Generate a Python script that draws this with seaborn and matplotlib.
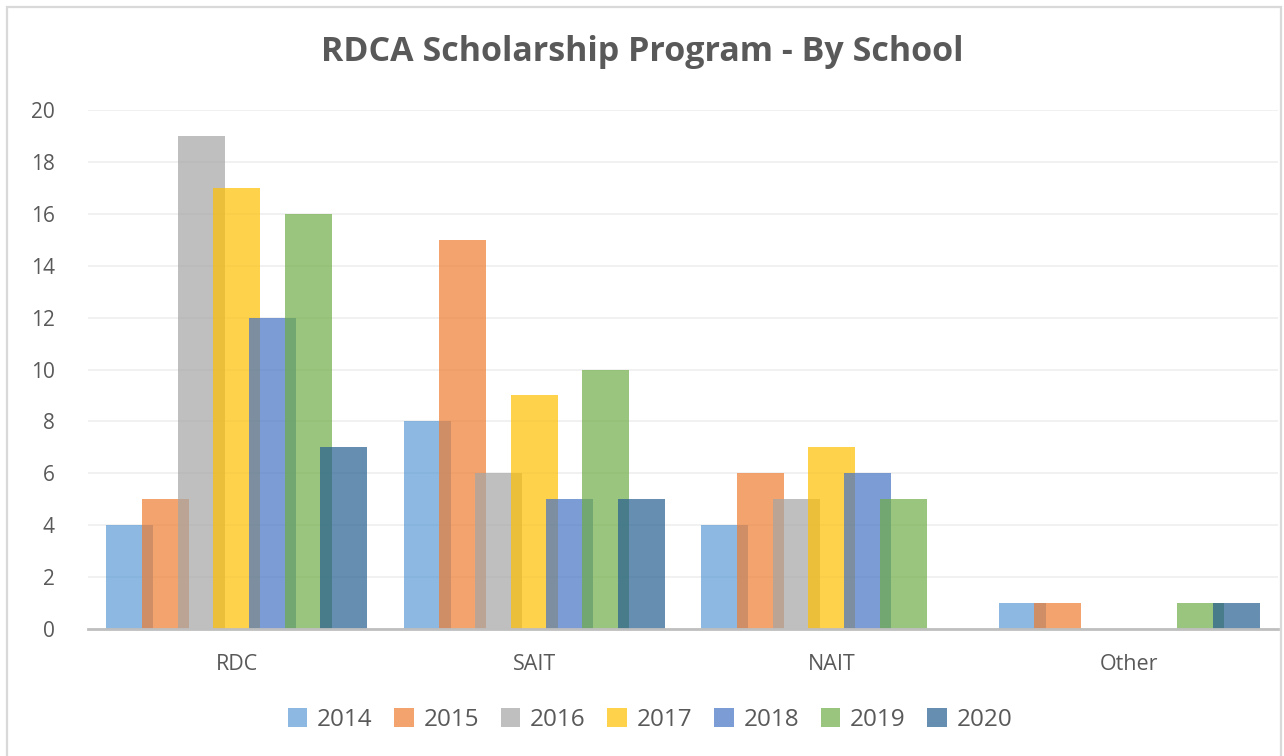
import numpy as np
import pandas as pd
import seaborn as sns
import matplotlib.pyplot as plt
from matplotlib.patches import Rectangle

# Data
schools = ['RDC', 'SAIT', 'NAIT', 'Other']
years = ['2014', '2015', '2016', '2017', '2018', '2019', '2020']
y2014 = [4, 8, 4, 1]
y2015 = [5, 15, 6, 1]
y2016 = [19, 6, 5, 0]
y2017 = [17, 9, 7, 0]
y2018 = [12, 5, 6, 0]
y2019 = [16, 10, 5, 1]
y2020 = [7, 5, 0, 1]
colors = ['#5B9BD5', '#ED7D31', '#A5A5A5', '#FFC000', '#4472C4', '#70AD47', '#255E91']

series = [y2014, y2015, y2016, y2017, y2018, y2019, y2020]
df = pd.DataFrame({
    'School': schools * len(years),
    'Year': np.repeat(years, len(schools)),
    'Count': np.concatenate(series),
})

sns.set_theme(style='white')
plt.rcParams['font.family'] = ['Open Sans', 'DejaVu Sans']

W, H = 1284, 756
fig = plt.figure(figsize=(W / 100, H / 100), dpi=100)
ax = fig.add_axes([88 / W, 127 / H, 1190 / W, 519 / H])

sns.barplot(data=df, x='School', y='Count', hue='Year', order=schools,
            hue_order=years, palette=colors, width=0.84, alpha=0.7,
            saturation=1, errorbar=None, ax=ax, legend=True, linewidth=0)

# Widen bars so neighbours overlap like the Excel original
bar_w = 0.158
for p in ax.patches:
    if p.get_height() == 0 and p.get_width() == 0:
        continue
    c = p.get_x() + p.get_width() / 2
    p.set_x(c - bar_w / 2)
    p.set_width(bar_w)

ax.set_xlim(-0.5, 3.5)
ax.set_ylim(0, 20)
ax.set_yticks(range(0, 21, 2))
ax.yaxis.grid(True, color='#EFEFEF', linewidth=1.2)
ax.set_axisbelow(True)
for s in ['top', 'right', 'left']:
    ax.spines[s].set_visible(False)
ax.spines['bottom'].set_color('#BFBFBF')
ax.spines['bottom'].set_linewidth(2)
ax.tick_params(axis='x', length=0, labelsize=15.5, labelcolor='#595959', pad=18)
ax.tick_params(axis='y', length=0, labelsize=15, labelcolor='#595959', pad=24)
ax.set_xlabel('')
ax.set_ylabel('')

fig.text(0.5, 1 - 52 / H, 'RDCA Scholarship Program - By School', ha='center',
         va='center', fontsize=24.5, fontweight='bold', color='#595959')

handles, labels = ax.get_legend_handles_labels()
fig.legend(handles, labels, loc='center', bbox_to_anchor=(650 / W, 1 - 720 / H),
           ncol=7, frameon=False, fontsize=17.5, labelcolor='#595959',
           handlelength=0.8, handleheight=0.8, handletextpad=0.4, columnspacing=0.9)
ax.get_legend().remove()

fig.patches.append(Rectangle((6.5 / W, -0.01), (1281 - 6.5) / W, (H - 7.5) / H + 0.01,
                             transform=fig.transFigure, fill=False,
                             edgecolor='#D9D9D9', linewidth=1.6))

fig.savefig('out.png', dpi=100)
